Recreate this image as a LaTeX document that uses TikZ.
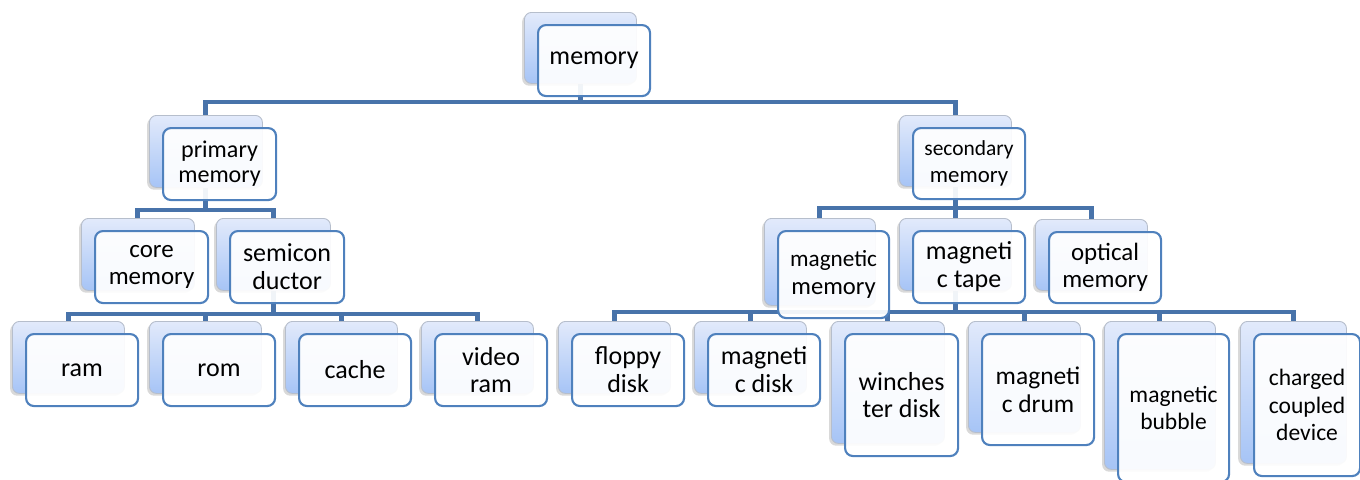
\documentclass[tikz,border=0pt]{standalone}
\usepackage{fontspec}
\setmainfont{Carlito}
\usetikzlibrary{shadows,backgrounds}
\definecolor{conncol}{RGB}{72,115,170}
\definecolor{frontcol}{RGB}{79,129,189}
\definecolor{backtop}{RGB}{226,234,251}
\definecolor{backbot}{RGB}{166,196,246}
\definecolor{backline}{RGB}{182,190,204}
\tikzset{
 backbox/.style={anchor=north west, rounded corners=4pt, draw=backline, line width=0.5pt,
   top color=backtop, bottom color=backbot,
   drop shadow={shadow xshift=-1.3pt, shadow yshift=-1.3pt, opacity=0.3}, inner sep=0pt},
 frontbox/.style={anchor=north west, rounded corners=4.5pt, draw=frontcol, line width=1.2pt,
   fill=white, fill opacity=0.92, text opacity=1, align=center, inner sep=1pt, text=black},
 conn/.style={draw=conncol, line width=2.8pt},
}
\newcommand\bx[8]{%
  \node[backbox, minimum width=#4*0.02cm, minimum height=#5*0.02cm] (#1-b) at (#2-13,#3-12) {};
  \node[frontbox, minimum width=#4*0.02cm, minimum height=#5*0.02cm,
        font=\fontsize{#6}{#7}\selectfont] (#1) at (#2,#3) {#8};
}
\begin{document}
\begin{tikzpicture}[x=0.02cm, y=-0.02cm]
\useasboundingbox (0,0) rectangle (1360,480);
\bx{mem}{537}{24}{112}{71}{14.8}{15.9}{\raisebox{-2pt}{memory}}
\bx{prim}{162}{127}{113}{72}{13.7}{14.3}{primary\\memory}
\bx{sec}{912}{127}{112}{71}{13}{15}{{\fontsize{12.2}{15}\selectfont secondary}\\memory}
\bx{core}{94}{230}{113}{72}{14.2}{15.3}{core\\memory}
\bx{semi}{229}{230}{114}{72}{14.8}{15.9}{semicon\\ductor}
\bx{magm}{777}{230}{111}{87}{14}{15.5}{{\fontsize{13.2}{15}\selectfont magnetic}\\memory}
\bx{tape}{912}{230}{112}{72}{14.8}{15.9}{magneti\\c tape}
\bx{opt}{1048}{231}{112}{71}{14.2}{15.5}{optical\\memory}
\bx{ram}{25}{333}{112}{72}{14.8}{15.9}{ram}
\bx{rom}{162}{333}{112}{72}{14.8}{15.9}{rom}
\bx{cache}{298}{333}{112}{72}{14.8}{15.9}{cache}
\bx{vram}{434}{333}{112}{72}{14.8}{15.9}{video\\ram}
\bx{floppy}{571}{333}{112}{72}{14.8}{15.9}{floppy\\disk}
\bx{mdisk}{707}{333}{112}{72}{14.8}{15.9}{magneti\\c disk}
\bx{winch}{844}{333}{113}{122}{14.8}{15.9}{\raisebox{-3pt}{winches}\\\raisebox{-3pt}{ter disk}}
\bx{drum}{981}{333}{112}{111}{14.5}{15.9}{magneti\\c drum}
\bx{bubble}{1117}{333}{111}{148}{13.4}{15.5}{magnetic\\bubble}
\bx{ccd}{1253}{333}{106}{142}{13.4}{15.5}{charged\\coupled\\device}
\coordinate (bus0) at (0,102);
\coordinate (bus1) at (0,210);
\coordinate (bus2) at (0,208);
\coordinate (bus3) at (0,314);
\coordinate (bus4) at (0,312);
\begin{pgfonlayer}{background}
\foreach \ch in {prim,sec}
  \draw[conn] (mem-b.south) |- (\ch-b.north |- bus0) -- (\ch-b.north);
\foreach \ch in {core,semi}
  \draw[conn] (prim-b.south) |- (\ch-b.north |- bus1) -- (\ch-b.north);
\foreach \ch in {magm,tape,opt}
  \draw[conn] (sec-b.south) |- (\ch-b.north |- bus2) -- (\ch-b.north);
\foreach \ch in {ram,rom,cache,vram}
  \draw[conn] (semi-b.south) |- (\ch-b.north |- bus3) -- (\ch-b.north);
\foreach \ch in {floppy,mdisk,winch,drum,bubble,ccd}
  \draw[conn] (tape-b.south) |- (\ch-b.north |- bus4) -- (\ch-b.north);
\end{pgfonlayer}
\end{tikzpicture}
\end{document}
